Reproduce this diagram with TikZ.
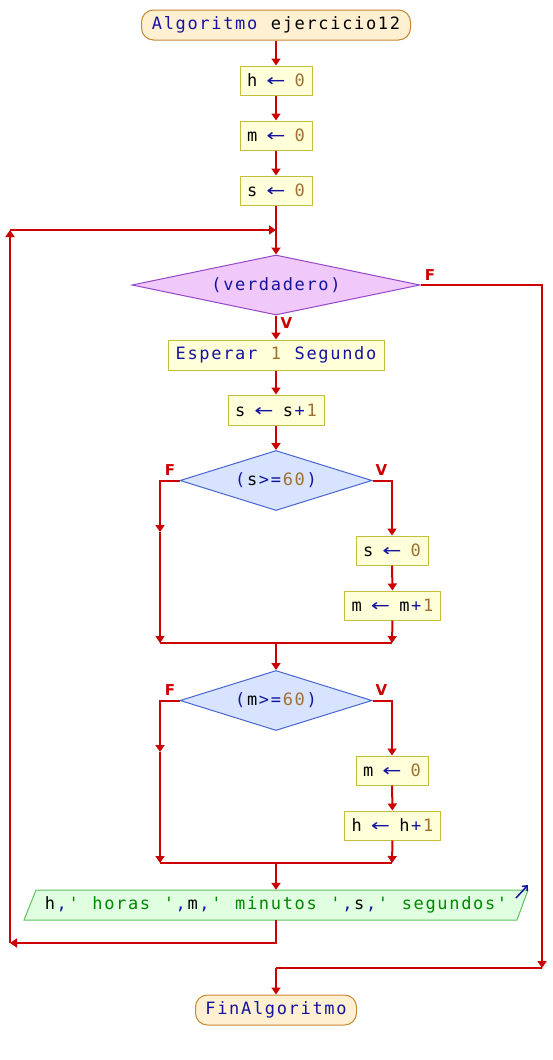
\documentclass[tikz,border=0pt]{standalone}
\usepackage{fontspec}
\usepackage{graphicx}
\setmonofont{DejaVu Sans Mono}
\newfontfamily\lblfont{DejaVu Sans}
\usetikzlibrary{arrows.meta,shapes.geometric}
\definecolor{flowred}{RGB}{204,0,0}
\definecolor{procfill}{RGB}{255,255,218}
\definecolor{procdraw}{RGB}{196,190,60}
\definecolor{termfill}{RGB}{255,240,210}
\definecolor{termdraw}{RGB}{200,136,50}
\definecolor{vfill}{RGB}{240,200,250}
\definecolor{vdraw}{RGB}{150,70,200}
\definecolor{bfill}{RGB}{216,228,255}
\definecolor{bdraw}{RGB}{70,100,210}
\definecolor{ofill}{RGB}{224,255,224}
\definecolor{odraw}{RGB}{96,192,96}
\definecolor{kwc}{RGB}{20,20,160}
\definecolor{numc}{RGB}{160,112,48}
\definecolor{strc}{RGB}{0,135,0}
\newlength\cellw
\setlength\cellw{11.9pt}
\ExplSyntaxOn
\cs_new:Npn \monoit #1 { \str_map_inline:nn {#1} { \makebox[\cellw][c]{##1} } }
\ExplSyntaxOff
\newcommand\codefont{\ttfamily\fontsize{17}{20}\selectfont}
\newcommand\tx[1]{\monoit{#1}}
\newcommand\kw[1]{\textcolor{kwc}{\monoit{#1}}}
\newcommand\nm[1]{\textcolor{numc}{\monoit{#1}}}
\newcommand\st[1]{\textcolor{strc}{\monoit{#1}}}
\newcommand\asg{\textcolor{kwc}{\makebox[\cellw][c]{\lblfont\scalebox{1.35}[1]{←}}}}
\tikzset{
  proc/.style={draw=procdraw, fill=procfill, line width=1pt, inner sep=0pt, minimum height=29pt, font=\codefont},
  term/.style={draw=termdraw, fill=termfill, line width=1pt, rounded corners=12pt, inner sep=0pt, minimum height=30pt, font=\codefont},
  dec/.style={diamond, line width=1pt, inner sep=0pt, minimum height=60pt, font=\codefont},
  flow/.style={draw=flowred, line width=2pt},
  arr/.style={flow, -{Triangle[width=9pt,length=7pt]}},
  lbl/.style={text=flowred, font=\lblfont\bfseries\fontsize{15}{15}\selectfont, inner sep=0pt},
}
\begin{document}
\begin{tikzpicture}[x=1pt,y=-1pt]
\useasboundingbox (0,0) rectangle (552,1060);
% nodes
\node[term, minimum width=269pt] (start) at (276,25) {\kw{Algoritmo}\tx{ ejercicio12}};
\node[proc, minimum width=72pt] (h0) at (276,80.5) {\tx{h }\asg\tx{ }\nm{0}};
\node[proc, minimum width=72pt] (m0) at (276,135.5) {\tx{m }\asg\tx{ }\nm{0}};
\node[proc, minimum width=72pt] (s0a) at (276,190.5) {\tx{s }\asg\tx{ }\nm{0}};
\coordinate (J1) at (276,230);
\node[dec, draw=vdraw, fill=vfill, minimum width=288pt, aspect=4.8] (dv) at (276,285) {\kw{(verdadero)}};
\node[proc, minimum width=216pt, minimum height=30pt] (esp) at (276,355) {\kw{Esperar}\tx{ }\nm{1}\tx{ }\kw{Segundo}};
\node[proc, minimum width=96pt, minimum height=30pt] (s1) at (276,410) {\tx{s }\asg\tx{ s}\kw{+}\nm{1}};
\node[dec, draw=bdraw, fill=bfill, minimum width=192pt, aspect=3.2] (ds) at (276,480.5) {\kw{(}\tx{s}\kw{>=}\nm{60}\kw{)}};
\node[proc, minimum width=72pt] (s0b) at (392,550.5) {\tx{s }\asg\tx{ }\nm{0}};
\node[proc, minimum width=96pt] (mm1) at (392.5,605.5) {\tx{m }\asg\tx{ m}\kw{+}\nm{1}};
\node[dec, draw=bdraw, fill=bfill, minimum width=192pt, aspect=3.2] (dm) at (276,700.5) {\kw{(}\tx{m}\kw{>=}\nm{60}\kw{)}};
\node[proc, minimum width=72pt] (m0b) at (392,770.5) {\tx{m }\asg\tx{ }\nm{0}};
\node[proc, minimum width=96pt] (hh1) at (392.5,825.5) {\tx{h }\asg\tx{ h}\kw{+}\nm{1}};
% output
\filldraw[draw=odraw, fill=ofill, line width=1pt] (24,920) -- (36,890) -- (528,890) -- (517,920) -- cycle;
\node[inner sep=0pt, minimum width=480pt, minimum height=30pt, font=\codefont] (out) at (276,905)
  {\tx{h}\kw{,}\st{' horas '}\kw{,}\tx{m}\kw{,}\st{' minutos '}\kw{,}\tx{s}\kw{,}\st{' segundos'}};
\draw[kwc, line width=1.5pt, -{Straight Barb[length=4pt,width=7pt]}] (516,898) -- (528,885);
\node[term, minimum width=161pt] (end) at (276,1010) {\kw{FinAlgoritmo}};
% labels
\node[lbl] (F1) at (430,275) {F};
\node[lbl] (V1) at (286.5,323) {V};
\node[lbl] (F2) at (170,470) {F};
\node[lbl] (V2) at (381.5,470) {V};
\node[lbl] (F3) at (170,690) {F};
\node[lbl] (V3) at (381.5,690) {V};
% coordinates
\coordinate (L1) at (10,943);
\coordinate (L2) at (10,230);
\coordinate (E0) at (542,285);
\coordinate (E1) at (542,968);
\coordinate (E2) at (276,968);
\coordinate (Fs) at (160,480.5);
\coordinate (Fsm) at (160,532);
\coordinate (Fsb) at (160,643);
\coordinate (Vs) at (392,480.5);
\coordinate (Vsb) at (392,643);
\coordinate (Js) at (276,643);
\coordinate (Fm) at (160,700.5);
\coordinate (Fmm) at (160,752);
\coordinate (Fmb) at (160,863);
\coordinate (Vm) at (392,700.5);
\coordinate (Vmb) at (392,863);
\coordinate (Jm) at (276,863);
% connectors
\draw[arr] (start.south) -- (h0.north);
\draw[arr] (h0) -- (m0);
\draw[arr] (m0) -- (s0a);
\draw[flow] (s0a.south) -- (J1);
\draw[arr] (J1) -- (dv.north);
\draw[arr] (dv.south) -- (esp.north);
\draw[arr] (esp) -- (s1);
\draw[arr] (s1.south) -- (ds.north);
% s>=60
\draw[arr] (ds.west) -- (Fs) -- (Fsm);
\draw[arr] (Fsm) -- (Fsb);
\draw[arr] (ds.east) -- (Vs) -- (s0b.north);
\draw[arr] (s0b) -- (mm1);
\draw[arr] (mm1.south) -- (Vsb);
\draw[flow] (Fsb) -- (Vsb);
\draw[arr] (Js) -- (dm.north);
% m>=60
\draw[arr] (dm.west) -- (Fm) -- (Fmm);
\draw[arr] (Fmm) -- (Fmb);
\draw[arr] (dm.east) -- (Vm) -- (m0b.north);
\draw[arr] (m0b) -- (hh1);
\draw[arr] (hh1.south) -- (Vmb);
\draw[flow] (Fmb) -- (Vmb);
\draw[arr] (Jm) -- (out.north);
% loop back
\draw[arr] (out.south) |- (L1);
\draw[arr] (L1) -- (L2);
\draw[arr] (L2) -- (J1);
% exit
\draw[arr] (dv.east) -- (E0) -- (E1);
\draw[flow] (E1) -- (E2);
\draw[arr] (E2) -- (end.north);
\end{tikzpicture}
\end{document}
